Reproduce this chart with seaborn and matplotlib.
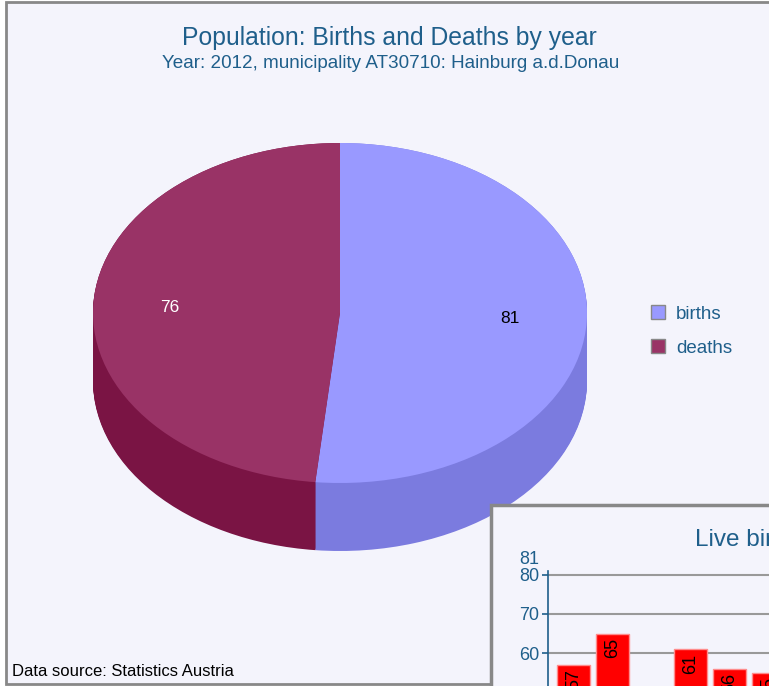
import numpy as np
import pandas as pd
import seaborn as sns
import matplotlib.pyplot as plt
from matplotlib.patches import Rectangle, Patch

# pie data
CATEGORIES = ['births', 'deaths']
VALUES = [81, 76]
TOP_COLORS = ['#9999ff', '#993366']
SIDE_COLORS = ['#7b7bdf', '#7a1444']
LABEL_COLORS = ['black', 'white']

# inset bar chart data (live births by year)
YEARS = [2002, 2003, 2004, 2005, 2006, 2007, 2008, 2009, 2010, 2011, 2012]
LIVE_BIRTHS = [57, 65, 48, 61, 56, 55, 60, 58, 62, 70, 81]

BG = '#f4f4fc'
BLUE = '#1f5f8b'
W, H = 769, 686

sns.set_theme(style='white')
plt.rcParams['font.family'] = ['Liberation Sans', 'DejaVu Sans']


def fx(px):
    return px / W


def fy(py):
    return 1 - py / H


fig = plt.figure(figsize=(W / 100, H / 100), dpi=100, facecolor='white')

# chart frame
fig.patches.append(Rectangle((fx(6), fy(684)), 1.2, fy(2) - fy(684), transform=fig.transFigure,
                             facecolor=BG, edgecolor='#888888', lw=2, zorder=-1))

# ---- 3D pie ----
cx, cy, rx, ry, depth = 340, 313, 247, 170, 68
d = depth / ry
ax = fig.add_axes([fx(cx - 1.25 * rx), fy(cy + (1.25 + d) * ry), 2.5 * rx / W, (2.5 + d) * ry / H])
ax.set_facecolor('none')

# stacked darker pies give the side wall
for off in np.linspace(d, 0, 70):
    ax.pie(VALUES, startangle=90, counterclock=False, colors=SIDE_COLORS,
           center=(0, -off), radius=1, wedgeprops=dict(linewidth=0, antialiased=True))

total = sum(VALUES)
wedges, _, autotexts = ax.pie(VALUES, startangle=90, counterclock=False, colors=TOP_COLORS,
                              center=(0, 0), radius=1, wedgeprops=dict(linewidth=0),
                              autopct=lambda p: f'{p * total / 100:.0f}', pctdistance=0.69,
                              textprops=dict(fontsize=12.5))
for t, c in zip(autotexts, LABEL_COLORS):
    t.set_color(c)

ax.set_aspect('auto')
ax.set_xlim(-1.25, 1.25)
ax.set_ylim(-1.25 - d, 1.25)
ax.axis('off')

handles = [Patch(facecolor=c, edgecolor='#888888', lw=1) for c in TOP_COLORS]
fig.legend(handles, CATEGORIES, loc='center left', bbox_to_anchor=(fx(634), fy(331)),
           frameon=False, fontsize=13.5, labelcolor=BLUE, handlelength=0.75, handleheight=0.75,
           labelspacing=0.9, handletextpad=0.6)

fig.text(fx(389), fy(38), 'Population: Births and Deaths by year', ha='center', va='center',
         fontsize=17.8, color=BLUE)
fig.text(fx(391), fy(64), 'Year: 2012, municipality AT30710: Hainburg a.d.Donau', ha='center',
         va='center', fontsize=13.6, color=BLUE)
fig.text(fx(12), fy(672), 'Data source: Statistics Austria', ha='left', va='center',
         fontsize=12, color='black')

# ---- inset bar chart ----
fig.patches.append(Rectangle((fx(491), fy(H + 20)), 1, fy(505) - fy(H + 20), transform=fig.transFigure,
                             facecolor=BG, edgecolor='#888888', lw=2.5, zorder=1))

top_px, unit = 570.7, 3.93
bottom_px = top_px + 81 * unit
ax2 = fig.add_axes([fx(548), fy(bottom_px), 11.3 * 39 / W, (bottom_px - top_px) / H])
ax2.set_zorder(2)
ax2.set_facecolor('none')

df = pd.DataFrame({'year': YEARS, 'births': LIVE_BIRTHS})
sns.barplot(data=df, x='year', y='births', color='red', saturation=1, width=0.85,
            edgecolor='#ff8c8c', linewidth=1, ax=ax2, zorder=3)
for cont in ax2.containers:
    labels = ax2.bar_label(cont, rotation=90, padding=-3, fontsize=13, color='black')
    for t in labels:
        t.set_va('top')

ax2.set_xlim(-0.65, 10.65)
ax2.set_ylim(0, 81)
ax2.set_yticks(range(0, 81, 10))
ax2.yaxis.grid(True, color='#999999', lw=1.5, zorder=0)
ax2.set_axisbelow(True)
for s in ['top', 'right', 'bottom']:
    ax2.spines[s].set_visible(False)
ax2.spines['left'].set_color(BLUE)
ax2.spines['left'].set_linewidth(1.2)
ax2.tick_params(axis='y', left=True, length=4.5, width=1.2, color=BLUE, labelcolor=BLUE,
                labelsize=13, pad=2)
ax2.set_xlabel('')
ax2.set_ylabel('')
ax2.annotate(str(max(LIVE_BIRTHS)), xy=(0, max(LIVE_BIRTHS)), xycoords=('axes fraction', 'data'),
             xytext=(-6, 2), textcoords='offset points', ha='right', va='bottom',
             fontsize=13, color=BLUE)

fig.text(fx(695), fy(540), 'Live births by year', ha='left', va='center', fontsize=17.5,
         color=BLUE, zorder=3)

fig.savefig('out.png', dpi=100, facecolor='white')
